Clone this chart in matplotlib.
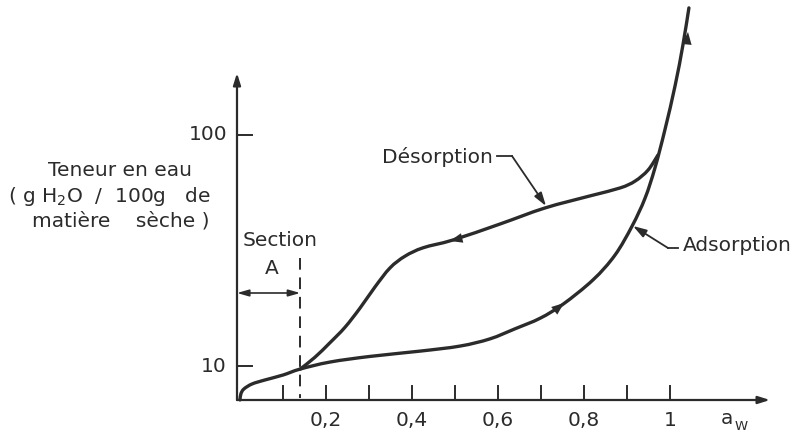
#!/usr/bin/env python3
"""Isotherme de sorption : hysteresis adsorption / desorption."""
import numpy as np
import matplotlib.pyplot as plt
from matplotlib.path import Path
from matplotlib.patches import PathPatch

W, H = 807, 434
INK = '#2b2b2b'

# adsorption branch (aw, g H2O / 100 g matiere seche)
ads_aw = [0.0, 0.002, 0.009, 0.028, 0.058, 0.10, 0.14, 0.209, 0.302, 0.419,
          0.512, 0.581, 0.640, 0.698, 0.751, 0.821, 0.872, 0.912, 0.942,
          0.965, 0.988, 1.012, 1.030, 1.044]
ads_w = [7.13, 7.57, 7.95, 8.36, 8.70, 9.14, 9.70, 10.4, 11.0, 11.6,
         12.2, 13.1, 14.5, 16.1, 18.5, 23.6, 30.2, 40.4, 53.3,
         72.0, 105, 164, 245, 355]

# desorption branch
des_aw = [0.14, 0.174, 0.209, 0.244, 0.279, 0.314, 0.349, 0.384, 0.426,
          0.495, 0.605, 0.709, 0.814, 0.884, 0.919, 0.949, 0.972]
des_w = [9.7, 10.9, 12.6, 14.7, 17.8, 22.0, 26.6, 29.9, 32.5,
         35.1, 41.2, 48.3, 54.5, 59.0, 63.2, 70.5, 81.9]

x_ticks = [0.1, 0.2, 0.3, 0.4, 0.5, 0.6, 0.7, 0.8, 0.9, 1.0]
x_labels = {0.2: '0,2', 0.4: '0,4', 0.6: '0,6', 0.8: '0,8', 1.0: '1'}
y_ticks = [10, 100]
section_aw = 0.14


# pixel -> data helpers (layout only)
def X(px):
    return (px - 240) / 430.0


def Y(py):
    return 10 ** (1 + (366 - py) / 231.0)


def smooth(xs, ys):
    # catmull-rom through the read points, done in (aw, log w)
    p = np.column_stack([xs, np.log10(ys)])
    verts, codes = [p[0]], [Path.MOVETO]
    n = len(p)
    for i in range(n - 1):
        p0 = p[max(i - 1, 0)]
        p3 = p[min(i + 2, n - 1)]
        verts += [p[i] + (p[i + 1] - p0) / 6, p[i + 1] - (p3 - p[i]) / 6,
                  p[i + 1]]
        codes += [Path.CURVE4] * 3
    v = np.array(verts)
    v[:, 1] = 10 ** v[:, 1]
    return Path(v, codes)


fig = plt.figure(figsize=(W / 100, H / 100), dpi=100)
ax = fig.add_axes([0, 0, 1, 1])
ax.set_yscale('log')
ax.set_xlim(X(0), X(W))
ax.set_ylim(Y(H), Y(0))
ax.axis('off')

fs = 14.5
x0, y0 = X(237), Y(400)

# axes with arrows
ax.annotate('', xy=(x0, Y(73)), xytext=(x0, y0),
            arrowprops=dict(arrowstyle='-|>,head_length=0.7,head_width=0.22',
                            color=INK, lw=1.6, shrinkA=0, shrinkB=0))
ax.annotate('', xy=(X(770), y0), xytext=(x0, y0),
            arrowprops=dict(arrowstyle='-|>,head_length=0.7,head_width=0.22',
                            color=INK, lw=1.6, shrinkA=0, shrinkB=0))

# ticks
for t in x_ticks:
    ax.plot([t, t], [y0, Y(386)], color=INK, lw=1.4)
    if t in x_labels:
        ax.text(t, Y(420), x_labels[t], ha='center', va='center',
                fontsize=fs, color=INK)
for t in y_ticks:
    ax.plot([x0, X(252)], [t, t], color=INK, lw=1.4)
    ax.text(X(227), t, str(t), ha='right', va='center', fontsize=fs, color=INK)

ax.text(X(721), Y(419), 'a', ha='left', va='center', fontsize=fs, color=INK)
ax.text(X(735), Y(426), 'W', ha='left', va='center', fontsize=9.5, color=INK)

# y label
ax.text(X(120), Y(170), 'Teneur en eau', ha='center', va='center',
        fontsize=fs, color=INK)
ax.text(X(109), Y(197), '( g H$_2$O  /  100g   de', ha='center', va='center',
        fontsize=fs, color=INK)
ax.text(X(121), Y(221), 'matière    sèche )', ha='center', va='center',
        fontsize=fs, color=INK)

# curves
for xs, ys in [(ads_aw, ads_w), (des_aw, des_w)]:
    ax.add_patch(PathPatch(smooth(xs, ys), fill=False, edgecolor=INK,
                           lw=2.4, capstyle='round'))

head = dict(arrowstyle='-|>,head_length=0.9,head_width=0.35', color=INK,
            lw=0, shrinkA=0, shrinkB=0)
ax.annotate('', xy=(X(564), Y(303)), xytext=(X(549), Y(315)), arrowprops=head)
ax.annotate('', xy=(X(450), Y(241)), xytext=(X(470), Y(236)), arrowprops=head)
ax.annotate('', xy=(X(688), Y(32)), xytext=(X(686), Y(52)), arrowprops=head)

# section A
ax.plot([section_aw, section_aw], [Y(258), Y(398)], color=INK, lw=1.4,
        dashes=(6, 4))
ax.annotate('', xy=(section_aw, Y(293)), xytext=(x0, Y(293)),
            arrowprops=dict(arrowstyle='<|-|>,head_length=0.7,head_width=0.2',
                            color=INK, lw=1.2, shrinkA=0, shrinkB=0))
ax.text(X(243), Y(241), 'Section', ha='left', va='center', fontsize=fs,
        color=INK)
ax.text(X(272), Y(269), 'A', ha='center', va='center', fontsize=fs, color=INK)

# labels with leaders
ax.text(X(382), Y(157), 'Désorption', ha='left', va='center', fontsize=fs,
        color=INK)
ax.plot([X(497), X(512)], [Y(156), Y(156)], color=INK, lw=1.3)
ax.annotate('', xy=(X(546), Y(206)), xytext=(X(512), Y(156)),
            arrowprops=dict(arrowstyle='-|>,head_length=0.8,head_width=0.25',
                            color=INK, lw=1.3, shrinkA=0, shrinkB=0))

ax.text(X(683), Y(246), 'Adsorption', ha='left', va='center', fontsize=fs,
        color=INK)
ax.plot([X(668), X(678)], [Y(248), Y(248)], color=INK, lw=1.3)
ax.annotate('', xy=(X(633), Y(226)), xytext=(X(668), Y(248)),
            arrowprops=dict(arrowstyle='-|>,head_length=0.8,head_width=0.25',
                            color=INK, lw=1.3, shrinkA=0, shrinkB=0))

fig.savefig('out.png', dpi=100)
